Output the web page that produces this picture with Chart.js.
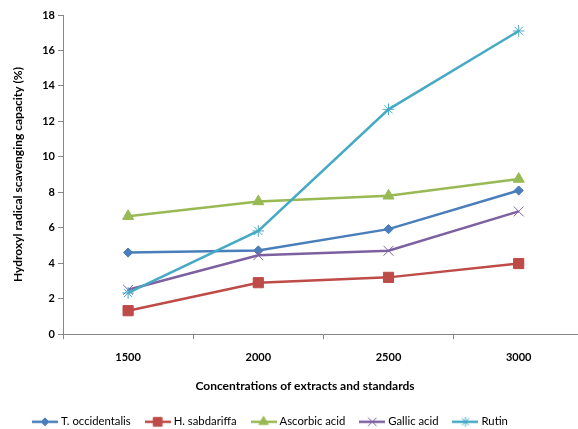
<!DOCTYPE html>
<html>
<head>
<meta charset="utf-8">
<script src="https://cdn.jsdelivr.net/npm/chart.js@4.4.1/dist/chart.umd.min.js"></script>
<style>
  html, body { margin: 0; padding: 0; background: #fff; overflow: hidden; }
  #wrap { width: 578px; height: 429px; overflow: hidden; }
  canvas { display: block; }
</style>
</head>
<body>
<div id="wrap"><canvas id="chart" width="592" height="429"></canvas></div>
<script>
// Concentrations (x categories)
const concentrations = ['1500', '2000', '2500', '3000'];

// Hydroxyl radical scavenging capacity (%) per sample
const tOccidentalis = [4.6, 4.72, 5.92, 8.1];
const hSabdariffa   = [1.32, 2.9, 3.2, 3.98];
const ascorbicAcid  = [6.65, 7.48, 7.8, 8.75];
const gallicAcid    = [2.5, 4.45, 4.7, 6.92];
const rutin         = [2.32, 5.82, 12.68, 17.1];

const seriesNames = ['T. occidentalis', 'H. sabdariffa', 'Ascorbic acid', 'Gallic acid', 'Rutin'];
const yTickMin = 0, yTickMax = 18, yTickStep = 2;

const FONT = 'Lato, "Open Sans", "Liberation Sans", sans-serif';
const LEGEND_SIZE = 11.3;

const styles = [
  { color: '#4A7EBB', point: 'rectRot',  radius: 4.6 },
  { color: '#BE4B48', point: 'rect',     radius: 7.2 },
  { color: '#98B954', point: 'triangle', radius: 6.4 },
  { color: '#7D60A0', point: 'crossRot', radius: 7 },
  { color: '#46AAC5', point: 'star',     radius: 5.8 }
];
const values = [tOccidentalis, hSabdariffa, ascorbicAcid, gallicAcid, rutin];

// Small line+marker icons for the legend
function legendIcon(st) {
  const c = document.createElement('canvas');
  c.width = 26; c.height = 14;
  const ctx = c.getContext('2d');
  ctx.strokeStyle = st.color;
  ctx.lineWidth = 2.5;
  ctx.beginPath();
  ctx.moveTo(0, 7); ctx.lineTo(26, 7);
  ctx.stroke();
  ctx.fillStyle = st.color;
  ctx.lineWidth = 1;
  Chart.helpers.drawPoint(ctx, {
    pointStyle: st.point,
    radius: st.radius * 0.85,
    rotation: 0,
    borderWidth: 1
  }, 13, 7);
  return c;
}
const icons = styles.map(legendIcon);

const datasets = values.map((v, i) => ({
  label: seriesNames[i],
  data: v,
  borderColor: styles[i].color,
  backgroundColor: styles[i].color,
  borderWidth: 2.5,
  tension: 0,
  pointStyle: styles[i].point,
  pointRadius: styles[i].radius,
  pointHoverRadius: styles[i].radius,
  pointBackgroundColor: styles[i].color,
  pointBorderColor: styles[i].color,
  pointBorderWidth: 1,
  order: values.length - i
}));

new Chart(document.getElementById('chart'), {
  type: 'line',
  data: { labels: concentrations, datasets },
  options: {
    responsive: false,
    animation: false,
    devicePixelRatio: 1,
    layout: { padding: { left: 18, right: 0, top: 15, bottom: 0 } },
    plugins: {
      tooltip: { enabled: false },
      title: {
        display: true,
        position: 'bottom',
        weight: 500,
        text: 'Concentrations of extracts and standards',
        color: '#000',
        font: { family: FONT, size: 12, weight: 'bold' },
        padding: { top: 9, bottom: 6 }
      },
      legend: {
        position: 'bottom',
        align: 'start',
        maxHeight: 29.5,
        labels: {
          usePointStyle: true,
          pointStyleWidth: 20.7,
          padding: 16.65,
          color: '#000',
          font: { family: FONT, size: LEGEND_SIZE },
          generateLabels: (chart) => chart.data.datasets.map((ds, i) => ({
            text: ds.label,
            pointStyle: icons[i],
            datasetIndex: i,
            hidden: false,
            lineWidth: 0,
            fillStyle: 'transparent',
            strokeStyle: 'transparent'
          }))
        }
      }
    },
    scales: {
      x: {
        type: 'category',
        offset: true,
        grid: { offset: true, drawOnChartArea: false, tickLength: 5, color: '#868686', lineWidth: 1 },
        border: { color: '#868686', width: 1 },
        ticks: { padding: 12, color: '#000', font: { family: FONT, size: 11, weight: 'bold' } },
        afterFit: (s) => { s.height = 36; }
      },
      y: {
        min: yTickMin,
        max: yTickMax,
        ticks: { stepSize: yTickStep, padding: 3, color: '#000', font: { family: FONT, size: 11, weight: 'bold' } },
        grid: { drawOnChartArea: false, tickLength: 5, color: '#868686', lineWidth: 1 },
        border: { color: '#868686', width: 1 },
        title: {
          display: true,
          text: 'Hydroxyl radical scavenging capacity (%)',
          color: '#000',
          font: { family: FONT, size: 12, weight: 'bold' },
          padding: { top: -7, bottom: 0 }
        },
        afterFit: (s) => { s.width = 45; }
      }
    }
  }
});
</script>
</body>
</html>
